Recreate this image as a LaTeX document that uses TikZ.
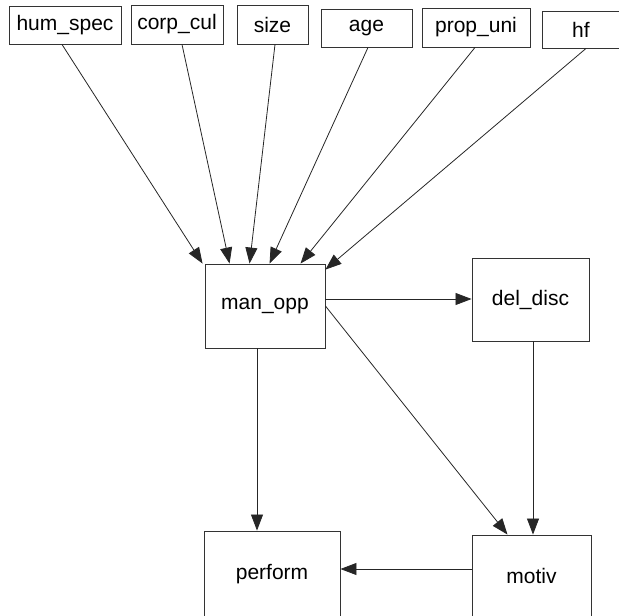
\documentclass[tikz,border=0pt]{standalone}
\usepackage{fontspec}
\setmainfont{Liberation Sans}
\usetikzlibrary{arrows.meta,calc}
\begin{document}
\begin{tikzpicture}[x=1pt,y=-1pt,
  box/.style={draw=black!80,line width=0.9pt,rectangle,inner sep=0pt,
    font=\fontsize{21}{25}\selectfont,text=black},
  conn/.style={draw=black!85,line width=0.8pt,-{Triangle[length=16pt,width=12pt]}}]
\useasboundingbox (0,0) rectangle (619,616);
\node[box,minimum width=112pt,minimum height=38pt] (hum) at (65,25) {hum\_spec};
\node[box,minimum width=92pt,minimum height=39pt] (corp) at (177,24.5) {corp\_cul};
\node[box,minimum width=71pt,minimum height=39pt] (size) at (272.5,24.5) {size};
\node[box,minimum width=91pt,minimum height=38pt] (age) at (366.5,28) {age};
\node[box,minimum width=108pt,minimum height=39pt] (prop) at (476,27.5) {prop\_uni};
\node[box,minimum width=78pt,minimum height=37pt] (hf) at (581,29.5) {hf};
\node[box,minimum width=120pt,minimum height=84pt] (man) at (265,306) {man\_opp};
\node[box,minimum width=117pt,minimum height=83pt] (del) at (530.5,299.5) {del\_disc};
\node[box,minimum width=136pt,minimum height=86pt] (perf) at (272,574) {perform};
\node[box,minimum width=119pt,minimum height=82pt] (motiv) at (531.5,576) {motiv};
\draw[conn] ([xshift=-3pt]hum.south) -- ([xshift=-2pt]man.north west);
\draw[conn] ([xshift=5pt]corp.south) -- ([xshift=25pt]man.north west);
\draw[conn] ([xshift=2.5pt]size.south) -- ([xshift=45pt]man.north west);
\draw[conn] ([xshift=1.5pt]age.south) -- ([xshift=65pt]man.north west);
\draw[conn] ([xshift=-1pt]prop.south) -- ([xshift=96pt]man.north west);
\draw[conn] ([xshift=5pt]hf.south) -- ([yshift=-6pt]man.north east);
\draw[conn] ([yshift=7pt]man.east) -- ([yshift=7pt]man.east -| del.west);
\draw[conn] (man.east) -- ([xshift=-24pt]motiv.north);
\draw[conn] ([xshift=-8pt]man.south) -- ([xshift=-8pt]man.south |- perf.north);
\draw[conn] ([xshift=2.5pt]del.south) -- ([xshift=2.5pt]del.south |- motiv.north);
\draw[conn] ([yshift=7pt]motiv.west) -- ([yshift=7pt]motiv.west -| perf.east);
\end{tikzpicture}
\end{document}
